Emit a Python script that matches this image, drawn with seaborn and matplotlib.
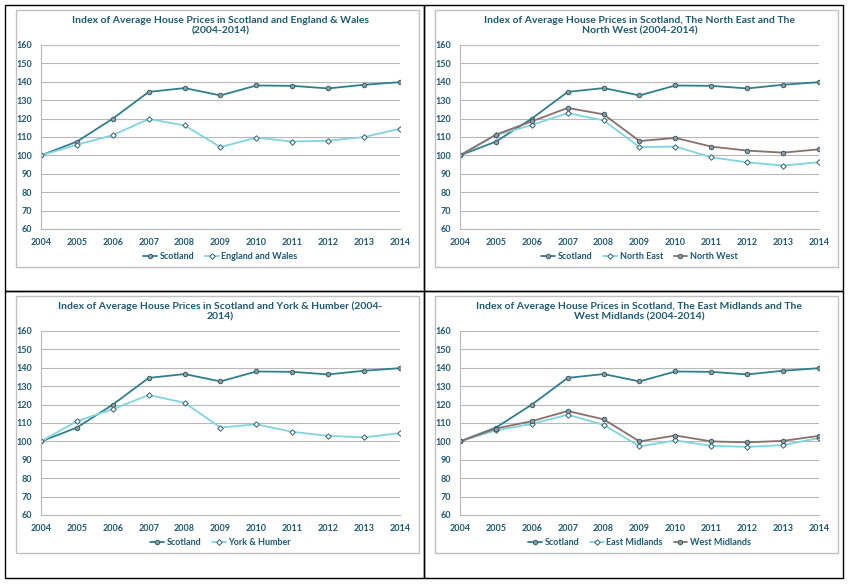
import matplotlib
matplotlib.use("Agg")
import matplotlib.pyplot as plt
import seaborn as sns
import pandas as pd
from matplotlib.patches import Rectangle

sns.set_style("white")
plt.rcParams['font.family'] = ['Lato', 'DejaVu Sans']

years = list(range(2004, 2015))
scotland = [100, 107.5, 120, 134.5, 136.6, 132.6, 138, 137.8, 136.4, 138.4, 139.8]
england_wales = [100, 105.8, 111, 119.8, 116.3, 104.5, 109.7, 107.5, 108, 110, 114.5]
north_east = [100, 111, 116.5, 123, 119, 104.5, 104.8, 99, 96.2, 94.5, 96.3]
north_west = [100, 111.3, 118.5, 125.8, 122.3, 107.8, 109.5, 104.8, 102.6, 101.5, 103.3]
york_humber = [100, 111, 117.5, 125.2, 121, 107.5, 109.3, 105.2, 103, 102.2, 104.5]
east_midlands = [100, 106, 109.5, 114.5, 109, 97.3, 100.5, 97.6, 97, 98, 101.8]
west_midlands = [100, 107, 111, 116.5, 112, 100, 103.2, 100, 99.5, 100.3, 103]

titles = [
    "Index of Average House Prices in Scotland and England & Wales\n(2004-2014)",
    "Index of Average House Prices in Scotland, The North East and The\nNorth West (2004-2014)",
    "Index of Average House Prices in Scotland and York & Humber (2004-\n2014)",
    "Index of Average House Prices in Scotland, The East Midlands and The\nWest Midlands (2004-2014)",
]
C_SCOT, C_LIGHT, C_BROWN = "#2f7f8f", "#7fd4e2", "#8a6f69"
panels = [
    [("Scotland", scotland, C_SCOT, "o"), ("England and Wales", england_wales, C_LIGHT, "D")],
    [("Scotland", scotland, C_SCOT, "o"), ("North East", north_east, C_LIGHT, "D"), ("North West", north_west, C_BROWN, "o")],
    [("Scotland", scotland, C_SCOT, "o"), ("York & Humber", york_humber, C_LIGHT, "D")],
    [("Scotland", scotland, C_SCOT, "o"), ("East Midlands", east_midlands, C_LIGHT, "D"), ("West Midlands", west_midlands, C_BROWN, "o")],
]
TXT = "#1d5a73"
W, H = 850, 586
fig = plt.figure(figsize=(8.5, 5.86), dpi=100)

def fx(x): return x / W
def fy(y): return 1 - y / H

for (x0, y0, x1, y1) in [(5, 5, 424, 291), (424, 5, 843, 291), (5, 291, 424, 578), (424, 291, 843, 578)]:
    fig.patches.append(Rectangle((fx(x0), fy(y1)), fx(x1 - x0), (y1 - y0) / H, transform=fig.transFigure,
                                 fill=False, edgecolor="black", lw=1))

cells = [(5, 5), (424, 5), (5, 291), (424, 291)]
for (cx, cy), title, series in zip(cells, titles, panels):
    fig.patches.append(Rectangle((fx(cx + 11), fy(cy + 262)), 403 / W, 257 / H, transform=fig.transFigure,
                                 fill=False, edgecolor="#c0c0c0", lw=1))
    ax = fig.add_axes([fx(cx + 36), fy(cy + 224), 359 / W, 184 / H])
    for name, vals, col, mk in series:
        df = pd.DataFrame({"year": years, "v": vals})
        sns.lineplot(data=df, x="year", y="v", ax=ax, color=col, lw=1.3, marker=mk,
                     markersize=3.2 if mk == "o" else 2.8, markerfacecolor="#9a9a9a" if col != C_LIGHT else "white",
                     markeredgecolor="#2f5f6f", markeredgewidth=0.7, label=name)
    ax.set_xlim(2004, 2014)
    ax.set_ylim(60, 160)
    ax.set_xticks(years)
    ax.set_yticks(range(60, 161, 10))
    ax.grid(axis="y", color="#b8b8b8", lw=0.8)
    for s in ["top", "right"]:
        ax.spines[s].set_visible(False)
    for s in ["left", "bottom"]:
        ax.spines[s].set_color("#b8b8b8")
    ax.tick_params(axis="both", labelsize=6.5, colors=TXT, length=3, color="#b8b8b8")
    for lab in ax.get_xticklabels() + ax.get_yticklabels():
        lab.set_fontweight("bold")
    ax.set_xlabel("")
    ax.set_ylabel("")
    ax.set_title(title, fontsize=7.5, fontweight="bold", color=TXT, pad=8, linespacing=1.3)
    ax.legend(loc="upper center", bbox_to_anchor=(0.5, -0.08), ncol=len(series), frameon=False,
              prop={"size": 6.5, "weight": "bold"}, labelcolor=TXT, handlelength=1.5, handletextpad=0.3,
              columnspacing=1.2)

fig.savefig("out.png", dpi=100)
